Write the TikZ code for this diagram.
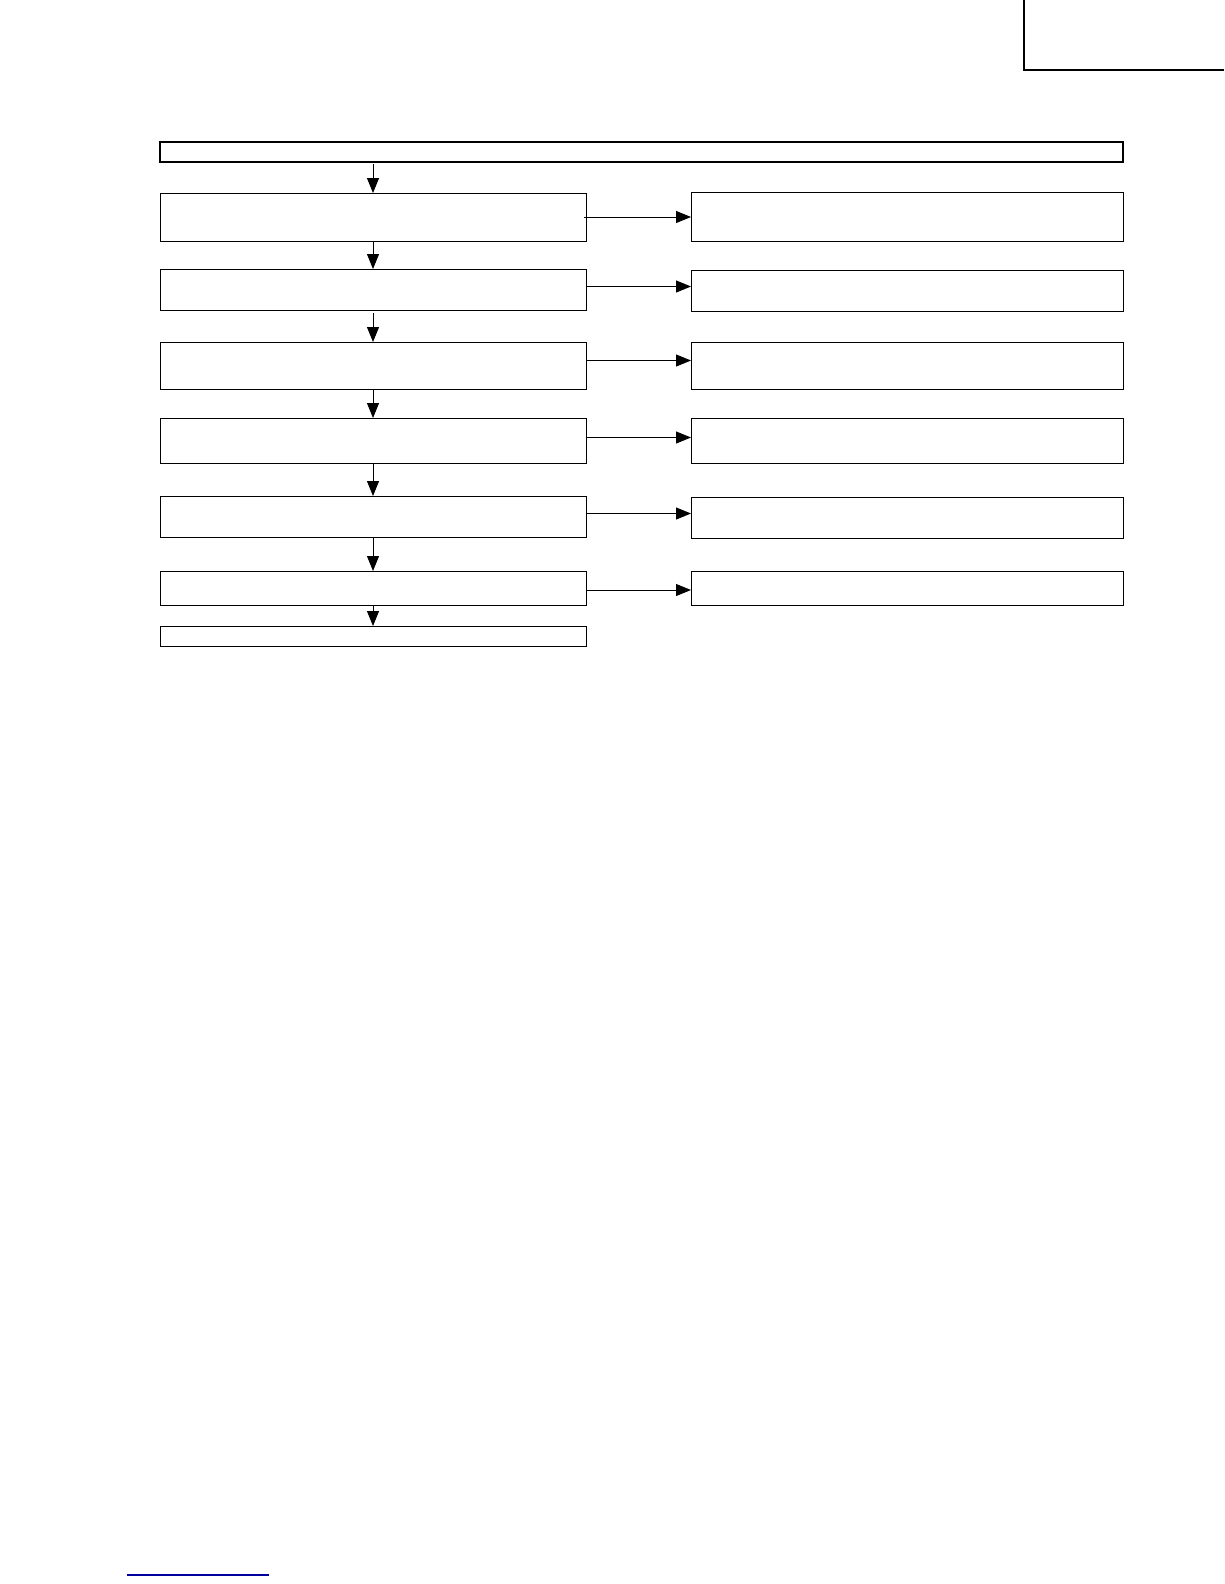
\documentclass[tikz,border=0pt]{standalone}
\usetikzlibrary{arrows.meta}
\tikzset{
  box/.style={draw=black, line width=0.9pt, rectangle, inner sep=0pt, outer sep=0pt, anchor=north west, fill=white},
  thickbox/.style={box, line width=2.4pt},
  arr/.style={draw=black, line width=0.9pt, -{Triangle[length=15pt,width=12pt]}},
}
\begin{document}
\begin{tikzpicture}[x=1pt,y=-1pt]
\useasboundingbox[fill=white] (0,0) rectangle (1224,1584);
% corner frame
\draw[line width=2pt] (1024,0) -- (1024,70.5) -- (1224,70.5);
% top wide box
\node[thickbox, minimum width=963pt, minimum height=20pt] (T) at (160,142) {};
% left column
\node[box, minimum width=426pt, minimum height=48pt] (L1) at (160,193) {};
\node[box, minimum width=426pt, minimum height=41pt] (L2) at (160,269) {};
\node[box, minimum width=426pt, minimum height=47pt] (L3) at (160,342) {};
\node[box, minimum width=426pt, minimum height=45pt] (L4) at (160,418) {};
\node[box, minimum width=426pt, minimum height=41pt] (L5) at (160,496) {};
\node[box, minimum width=426pt, minimum height=34pt] (L6) at (160,571) {};
\node[box, minimum width=426pt, minimum height=20pt] (L7) at (160,626) {};
% right column
\node[box, minimum width=432pt, minimum height=49pt] (R1) at (691,192) {};
\node[box, minimum width=432pt, minimum height=41pt] (R2) at (691,270) {};
\node[box, minimum width=432pt, minimum height=47pt] (R3) at (691,342) {};
\node[box, minimum width=432pt, minimum height=45pt] (R4) at (691,418) {};
\node[box, minimum width=432pt, minimum height=41pt] (R5) at (691,497) {};
\node[box, minimum width=432pt, minimum height=34pt] (R6) at (691,571) {};
% vertical arrows
\draw[arr] ([yshift=-2pt]T.south -| L1.north) -- (L1.north);
\draw[arr] (L1.south) -- (L2.north);
\draw[arr] ([yshift=-3pt]L2.south) -- (L3.north);
\draw[arr] (L3.south) -- (L4.north);
\draw[arr] (L4.south) -- (L5.north);
\draw[arr] (L5.south) -- (L6.north);
\draw[arr] (L6.south) -- (L7.north);
% horizontal arrows
\draw[arr] ([xshift=-2pt]L1.east) -- (L1.east -| R1.west);
\draw[arr] ([yshift=3pt]L2.east) -- ([yshift=3pt]L2.east -| R2.west);
\draw[arr] ([yshift=5pt]L3.east) -- ([yshift=5pt]L3.east -| R3.west);
\draw[arr] ([yshift=3pt]L4.east) -- ([yshift=3pt]L4.east -| R4.west);
\draw[arr] ([yshift=3pt]L5.east) -- ([yshift=3pt]L5.east -| R5.west);
\draw[arr] ([yshift=-2pt]L6.east) -- ([yshift=-2pt]L6.east -| R6.west);
% blue line at bottom
\draw[draw={rgb,255:red,0;green,0;blue,160}, line width=1.2pt] (127,1575) -- (269,1575);
\end{tikzpicture}
\end{document}
